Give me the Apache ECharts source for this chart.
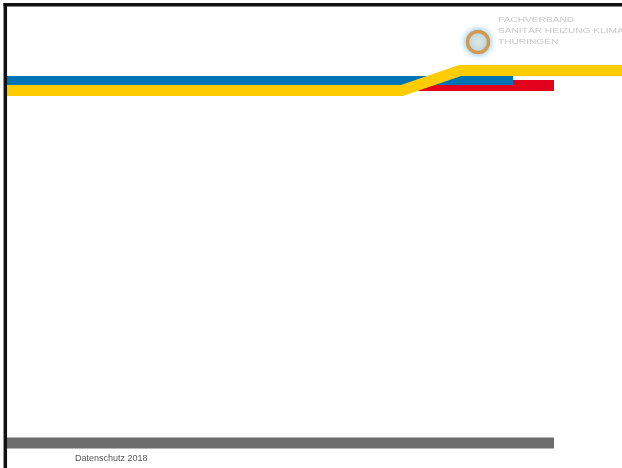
<!DOCTYPE html>
<html><head><meta charset="utf-8">
<script src="https://cdn.jsdelivr.net/npm/echarts@6/dist/echarts.min.js"></script>
<style>html,body{margin:0;padding:0;background:#fff}#c{width:622px;height:468px}</style>
</head><body><div id="c"></div>
<script>
// Slide decoration stripes in page units (x: 0..622, y: 0..468 from top)
const borderTop = [[3.5,4.8],[622,4.8]];
const borderLeft = [[5.3,3],[5.3,468]];
const redStripe = [[300,85.5],[554,85.5]];
const blueStripe = [[7,80.5],[513,80.5]];
const yellowStripe = [[7,90.5],[402,90.5],[460,70.5],[622,70.5]];
const footerStripe = [[7,443],[554,443]];
const logoPoint = [[478,42]];
const logoLines = ['FACHVERBAND','SANITÄR HEIZUNG KLIMA','THÜRINGEN'];
const footerText = 'Datenschutz 2018';

const chart = echarts.init(document.getElementById('c'));
function stripe(data, color, width, z){
  return {type:'line', data, symbol:'none', silent:true, animation:false, z,
    lineStyle:{color, width, cap:'butt', join:'miter'}};
}
chart.setOption({
  animation:false,
  grid:{left:0,right:0,top:0,bottom:0},
  xAxis:{type:'value',min:0,max:622,show:false},
  yAxis:{type:'value',min:0,max:468,inverse:true,show:false},
  series:[
    stripe(redStripe,'#e2001a',11,1),
    stripe(blueStripe,'#0073b7',9,2),
    stripe(yellowStripe,'#ffcc00',11,3),
    stripe(footerStripe,'#6d6d6d',11,2),
    stripe(borderTop,'#111111',3.5,5),
    stripe(borderLeft,'#111111',3.5,5),
    {type:'scatter',data:logoPoint,symbolSize:21,silent:true,z:4,
      itemStyle:{color:'#f6f0dc',borderColor:'#dc8a2a',borderWidth:3.5,shadowBlur:7,shadowColor:'#62b2e4'}}
  ],
  graphic:[
    {type:'text',x:498,y:15,scaleX:1.45,style:{text:logoLines.join('\n'),fill:'#c8c8c8',font:'7px "Liberation Sans", sans-serif',lineHeight:11}},
    {type:'text',left:75,top:454,style:{text:footerText,fill:'#555555',font:'9px "Liberation Sans", sans-serif'}}
  ]
});
</script></body></html>
